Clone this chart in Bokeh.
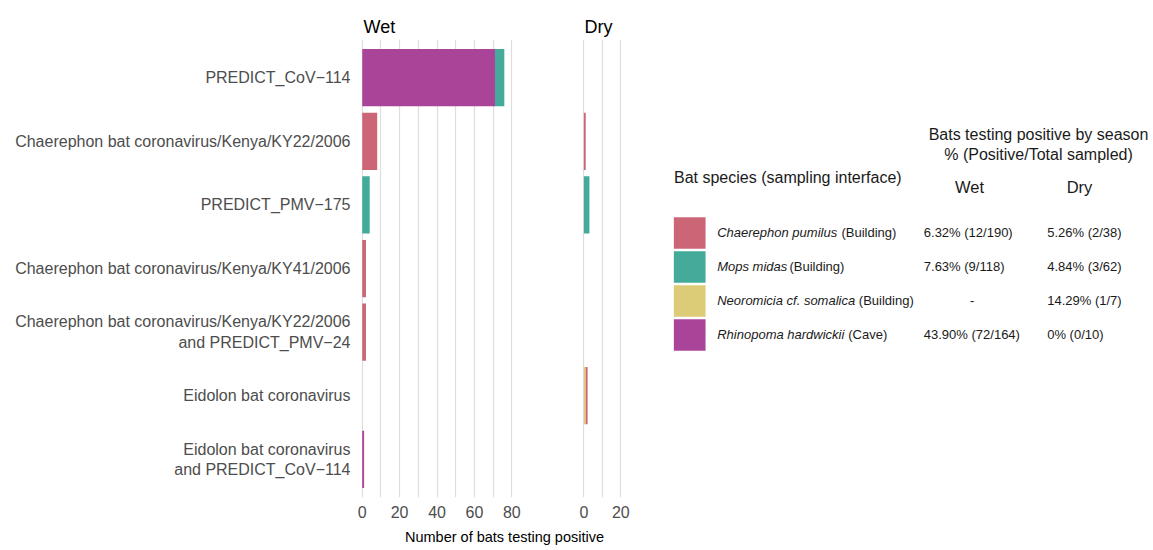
from bokeh.plotting import figure
from bokeh.models import FactorRange, Range1d, FixedTicker, ColumnDataSource
from bokeh.layouts import row, column
from bokeh.embed import file_html
from bokeh.resources import INLINE
from bokeh.core.properties import value

FONT = "Liberation Sans"

# ---------------- data ----------------
categories = [
    "PREDICT_CoV\u2212114",
    "Chaerephon bat coronavirus/Kenya/KY22/2006",
    "PREDICT_PMV\u2212175",
    "Chaerephon bat coronavirus/Kenya/KY41/2006",
    "Chaerephon bat coronavirus/Kenya/KY22/2006\nand PREDICT_PMV\u221224",
    "Eidolon bat coronavirus",
    "Eidolon bat coronavirus\nand PREDICT_CoV\u2212114",
]

species = ["Chaerephon pumilus", "Mops midas", "Neoromicia cf. somalica", "Rhinopoma hardwickii"]
interfaces = ["(Building)", "(Building)", "(Building)", "(Cave)"]
species_colors = ["#CC6677", "#44AA99", "#DDCC77", "#AA4499"]

wet_chaerephon = [0, 8, 0, 2, 2, 0, 0]
wet_mops = [5, 0, 4, 0, 0, 0, 0]
wet_neoromicia = [0, 0, 0, 0, 0, 0, 0]
wet_rhinopoma = [71, 0, 0, 0, 0, 0, 1]

dry_chaerephon = [0, 1, 0, 0, 0, 1, 0]
dry_mops = [0, 0, 3, 0, 0, 0, 0]
dry_neoromicia = [0, 0, 0, 0, 0, 1, 0]
dry_rhinopoma = [0, 0, 0, 0, 0, 0, 0]

wet_pct = ["6.32% (12/190)", "7.63% (9/118)", "-", "43.90% (72/164)"]
dry_pct = ["5.26% (2/38)", "4.84% (3/62)", "14.29% (1/7)", "0% (0/10)"]

wet_ticks = [0, 20, 40, 60, 80]
wet_minor = [10, 30, 50, 70]
dry_ticks = [0, 20]
dry_minor = [10]

heading1 = "Bats testing positive by season"
heading2 = "% (Positive/Total sampled)"
species_heading = "Bat species (sampling interface)"
season_headers = ["Wet", "Dry"]
x_title = "Number of bats testing positive"

# ---------------- layout constants (page pixels) ----------------
TOP = 39          # frame top
BOT = 28          # space under frame
FRAME_H = 458
ROW_H = TOP + FRAME_H + BOT
GRID = "#dedede"
LABEL_GREY = "#4d4d4d"

y_range = FactorRange(factors=categories[::-1], range_padding=0.1,
                      range_padding_units="absolute")

stack_keys = ["rhinopoma", "neoromicia", "mops", "chaerephon"]
stack_colors = [species_colors[3], species_colors[2], species_colors[1], species_colors[0]]


def panel(title, series, xr, ticks, minor, width, bl, br, show_y):
    src = ColumnDataSource(dict(cat=categories,
                                chaerephon=series[0], mops=series[1],
                                neoromicia=series[2], rhinopoma=series[3]))
    p = figure(width=width, height=ROW_H, y_range=y_range, x_range=Range1d(*xr),
               output_backend="svg", toolbar_location=None, title=title,
               min_border_left=bl, min_border_right=br,
               min_border_top=TOP, min_border_bottom=BOT)
    p.outline_line_color = None
    p.title.text_font = FONT
    p.title.text_font_size = "18px"
    p.title.text_font_style = "normal"
    p.title.text_color = "black"
    p.title.align = "left"
    p.title.offset = 8
    p.title.standoff = 5

    tk = FixedTicker(ticks=ticks, minor_ticks=minor)
    p.xaxis.ticker = tk
    p.xgrid.ticker = tk
    p.xaxis.major_label_text_font = FONT
    p.xaxis.major_label_text_font_size = "16px"
    p.xaxis.major_label_text_color = LABEL_GREY
    p.xaxis.axis_line_color = None
    p.xaxis.major_tick_line_color = None
    p.xaxis.minor_tick_line_color = None
    p.xaxis.major_tick_out = 0
    p.xaxis.minor_tick_out = 0
    p.xaxis.major_label_standoff = 8
    p.xgrid.grid_line_color = GRID
    p.xgrid.grid_line_width = 1.2
    p.xgrid.minor_grid_line_color = GRID
    p.xgrid.minor_grid_line_width = 1.2
    p.ygrid.grid_line_color = None

    if show_y:
        p.yaxis.major_label_text_font = FONT
        p.yaxis.major_label_text_font_size = "16px"
        p.yaxis.major_label_text_color = LABEL_GREY
        p.yaxis.axis_line_color = None
        p.yaxis.major_tick_line_color = None
        p.yaxis.major_tick_out = 0
        p.yaxis.major_label_standoff = 5
    else:
        p.yaxis.visible = False

    p.hbar_stack(stack_keys, y="cat", height=0.9, source=src,
                 fill_color=stack_colors, line_color=None)
    return p


wet = panel("Wet", [wet_chaerephon, wet_mops, wet_neoromicia, wet_rhinopoma],
            (-3.6, 80.9), wet_ticks, wet_minor, 576, 355, 63, True)
dry = panel("Dry", [dry_chaerephon, dry_mops, dry_neoromicia, dry_rhinopoma],
            (-4.0, 20.9), dry_ticks, dry_minor, 58, 0, 12, False)

# ---------------- legend / table (page-pixel coordinates) ----------------
LX0, LX1 = 634, 1150
lg = figure(width=LX1 - LX0, height=ROW_H, x_range=Range1d(LX0, LX1),
            y_range=Range1d(TOP + FRAME_H, TOP), output_backend="svg",
            toolbar_location=None, x_axis_location=None, y_axis_location=None,
            min_border_left=0, min_border_right=0,
            min_border_top=TOP, min_border_bottom=BOT)
lg.outline_line_color = None
lg.grid.visible = False

TXT = "#1a1a1a"
lg.text(x=[1038, 1038], y=[134, 154], text=[heading1, heading2],
        text_font=value(FONT), text_font_size="16px", text_align="center",
        text_baseline="alphabetic", text_color=TXT)
lg.text(x=[673.5], y=[176.5], text=[species_heading],
        text_font=value(FONT), text_font_size="16px", text_align="left",
        text_baseline="alphabetic", text_color=TXT)
lg.text(x=[969, 1079], y=[186.5, 186.5], text=season_headers,
        text_font=value(FONT), text_font_size="16.5px", text_align="center",
        text_baseline="alphabetic", text_color=TXT)

row_y = [232.5, 266.5, 300.5, 334.5]
base_y = [v - 0.5 for v in row_y]
lg.rect(x=[689.2] * 4, y=row_y, width=31.7, height=31.5,
        fill_color=species_colors, line_color=None)
lg.text(x=[716.7] * 4, y=base_y, text=species, text_font=value(FONT),
        text_font_size="13px", text_font_style="italic", text_align="left",
        text_baseline="alphabetic", text_color=TXT)
interface_x = [841, 789, 858.3, 847.7]
lg.text(x=interface_x, y=base_y, text=interfaces, text_font=value(FONT),
        text_font_size="13px", text_align="left",
        text_baseline="alphabetic", text_color=TXT)
wet_x = [923.3, 923.3, 969.5, 923.3]
lg.text(x=wet_x, y=base_y, text=wet_pct, text_font=value(FONT),
        text_font_size="13px", text_align="left",
        text_baseline="alphabetic", text_color=TXT)
lg.text(x=[1046.7] * 4, y=base_y, text=dry_pct, text_font=value(FONT),
        text_font_size="13px", text_align="left",
        text_baseline="alphabetic", text_color=TXT)

# ---------------- shared x-axis title ----------------
XT_H = 23
xt = figure(width=LX1, height=XT_H, x_range=Range1d(0, LX1),
            y_range=Range1d(ROW_H + XT_H, ROW_H), output_backend="svg",
            toolbar_location=None, x_axis_location=None, y_axis_location=None,
            min_border=0)
xt.outline_line_color = None
xt.grid.visible = False
xt.text(x=[504], y=[536], text=[x_title], text_font=value(FONT),
        text_font_size="14.5px", text_align="center", text_baseline="alphabetic",
        text_color="black")

layout = column(row(wet, dry, lg), xt)
open("out.html", "w").write(file_html(layout, INLINE))
